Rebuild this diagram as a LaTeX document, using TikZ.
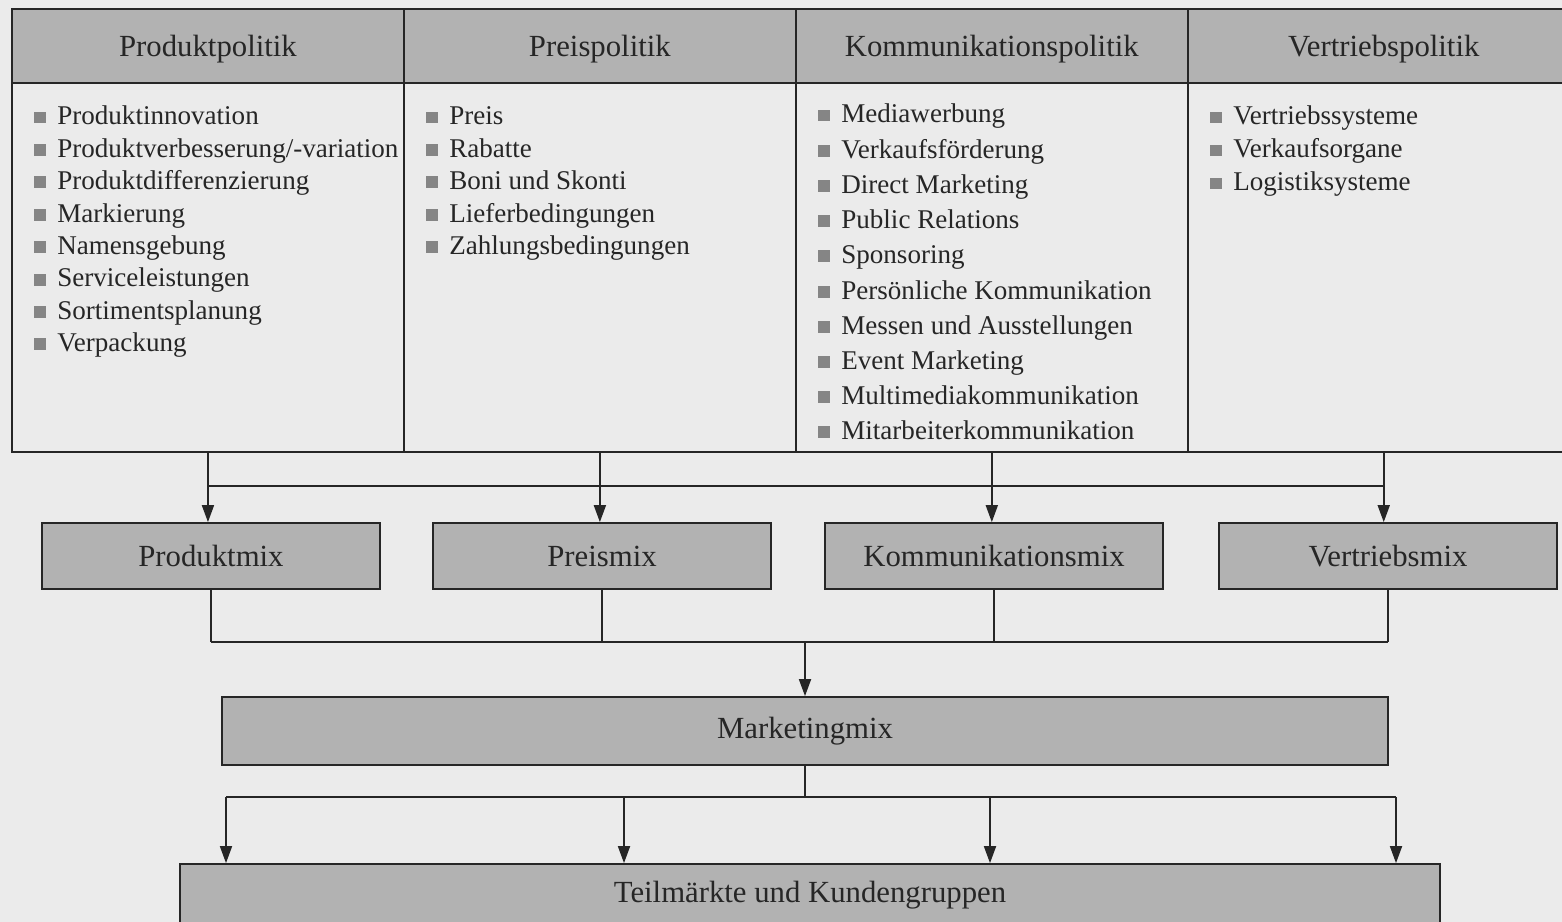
\documentclass[tikz,border=0pt]{standalone}
\usepackage{fontspec}
\setmainfont{Liberation Serif}
\usetikzlibrary{arrows.meta,positioning}

\definecolor{paper}{HTML}{EBEBEB}
\definecolor{boxgray}{HTML}{B2B2B2}
\definecolor{bulletgray}{HTML}{858585}
\definecolor{ink}{HTML}{262626}

\newcommand{\headfont}{\fontsize{17.5}{21}\selectfont}
\newcommand{\itemfont}{\fontsize{15.4}{18}\selectfont}
\newcommand{\blt}{\textcolor{bulletgray}{\raisebox{0.03cm}{\rule{0.24cm}{0.24cm}}}\hspace{0.22cm}}

\begin{document}
\begin{tikzpicture}[
  x=0.02cm, y=-0.02cm,
  every node/.style={text=ink},
  head/.style={draw=ink, fill=boxgray, line width=1pt, minimum width=7.84cm, minimum height=1.48cm, inner sep=0pt, outer sep=0pt, text depth=0pt, font=\headfont},
  cell/.style={draw=ink, line width=1pt, minimum width=7.84cm, minimum height=7.38cm, inner sep=0pt, outer sep=0pt},
  mixbox/.style={draw=ink, fill=boxgray, line width=1pt, minimum width=6.76cm, minimum height=1.32cm, font=\headfont},
  item/.style={anchor=base west, inner sep=0pt, font=\itemfont},
  link/.style={draw=ink, line width=1pt},
  arr/.style={link, -{Triangle[length=0.34cm, width=0.24cm]}}
]

% paper
\path[use as bounding box, fill=paper] (0,0) rectangle (1562,922);
\clip (0,0) rectangle (1562,922);

% header row
\node[head, anchor=north west] (hProd) at (12,9) {Produktpolitik};
\node[head, right=0pt of hProd] (hPreis) {Preispolitik};
\node[head, right=0pt of hPreis] (hKomm) {Kommunikationspolitik};
\node[head, right=0pt of hKomm] (hVert) {Vertriebspolitik};

% columns
\node[cell, below=0pt of hProd] (cProd) {};
\node[cell, below=0pt of hPreis] (cPreis) {};
\node[cell, below=0pt of hKomm] (cKomm) {};
\node[cell, below=0pt of hVert] (cVert) {};

% instruments
\foreach \txt [count=\i] in {Produktinnovation, Produktverbesserung/-variation,
    Produktdifferenzierung, Markierung, Namensgebung, Serviceleistungen,
    Sortimentsplanung, Verpackung}
  \node[item] (iProd\i) at (34, {125+(\i-1)*32.4}) {\blt\txt};
\foreach \txt [count=\i] in {Preis, Rabatte, Boni und Skonti, Lieferbedingungen,
    Zahlungsbedingungen}
  \node[item] (iPreis\i) at (426, {125+(\i-1)*32.4}) {\blt\txt};
\foreach \txt [count=\i] in {Mediawerbung, Verkaufsförderung, Direct Marketing,
    Public Relations, Sponsoring, Persönliche Kommunikation,
    Messen und Ausstellungen, Event Marketing, Multimediakommunikation,
    Mitarbeiterkommunikation}
  \node[item] (iKomm\i) at (818, {123+(\i-1)*35.2}) {\blt\txt};
\foreach \txt [count=\i] in {Vertriebssysteme, Verkaufsorgane, Logistiksysteme}
  \node[item] (iVert\i) at (1210, {125+(\i-1)*33}) {\blt\txt};

% mix boxes
\node[mixbox] (mProd) at (211,556) {Produktmix};
\node[mixbox] (mPreis) at (602,556) {Preismix};
\node[mixbox] (mKomm) at (994,556) {Kommunikationsmix};
\node[mixbox] (mVert) at (1388,556) {Vertriebsmix};

\node[mixbox, minimum width=23.32cm, minimum height=1.36cm] (mix) at (805,731) {Marketingmix};
\node[mixbox, minimum width=25.2cm, minimum height=1.24cm] (kunden) at (810,895) {Teilmärkte und Kundengruppen};

% politik -> mix
\coordinate (bar1) at (0,486);
\draw[link] (cProd.south |- bar1) -- (cVert.south |- bar1);
\foreach \c/\m in {cProd/mProd, cPreis/mPreis, cKomm/mKomm, cVert/mVert}
  \draw[arr] (\c.south) -- (\c.south |- \m.north);

% mix -> Marketingmix
\coordinate (bar2) at (0,642);
\foreach \m in {mProd, mPreis, mKomm, mVert}
  \draw[link] (\m.south) -- (\m.south |- bar2);
\draw[link] (mProd.south |- bar2) -- (mVert.south |- bar2);
\draw[arr] (mix.north |- bar2) -- (mix.north);

% Marketingmix -> Teilmaerkte
\coordinate (bar3) at (0,797);
\draw[link] (mix.south) -- (mix.south |- bar3);
\foreach \x [count=\i] in {226,624,990,1396}
  \coordinate (t\i) at (\x,797);
\draw[link] (t1) -- (t4);
\foreach \i in {1,...,4}
  \draw[arr] (t\i) -- (t\i |- kunden.north);

\end{tikzpicture}
\end{document}
